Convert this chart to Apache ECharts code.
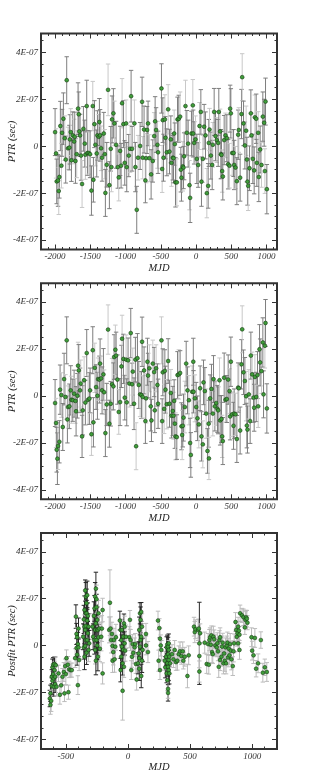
<!DOCTYPE html>
<html><head><meta charset="utf-8">
<script src="https://cdn.jsdelivr.net/npm/echarts@6/dist/echarts.min.js"></script>
<style>html,body{margin:0;padding:0;background:#fff}#c{width:316px;height:780px}</style>
</head><body><div id="c"></div>
<script>
// ---------- DATA (PTR values in units of 1E-07 s) ----------
const p1Mjd = [-2000,-1986,-1977,-1958,-1948,-1939,-1925,-1910,-1901,-1882,
 -1863,-1849,-1835,-1816,-1797,-1790,-1778,-1768,-1749,-1730,
 -1721,-1711,-1693,-1674,-1664,-1655,-1645,-1631,-1617,-1598,
 -1579,-1570,-1551,-1541,-1522,-1503,-1484,-1465,-1456,-1442,
 -1428,-1409,-1399,-1380,-1371,-1361,-1347,-1333,-1309,-1295,
 -1286,-1267,-1248,-1229,-1210,-1200,-1191,-1172,-1158,-1134,
 -1110,-1096,-1077,-1063,-1049,-1030,-1011,-992,-983,-954,
 -935,-921,-907,-874,-860,-841,-822,-793,-765,-756,
 -737,-718,-708,-694,-680,-661,-637,-613,-594,-580,
 -566,-547,-538,
 -490,-480,-471,-461,-442,-433,-414,-395,-376,-357,
 -348,-329,-319,-310,-300,-291,-272,-262,-244,-225,
 -215,-206,-187,-177,-168,-149,-130,-111,-92,-83,
 -64,-45,-40,-26,-7,12,31,50,69,78,
 97,116,135,154,173,182,192,211,230,239,
 258,277,296,315,324,343,353,362,372,381,
 400,419,438,457,476,485,495,514,533,542,
 561,580,599,608,627,646,656,675,694,712,
 722,731,741,760,779,788,807,826,836,855,
 864,883,892,911,930,949,968,978,987,1006];
const p1Ptr = [0.60,-0.31,-1.50,-1.46,-1.91,-1.31,0.86,-0.83,0.57,1.17,
 0.34,-0.57,2.81,-0.09,-0.06,0.29,0.60,-0.60,0.46,0.20,
 0.40,-0.63,-0.34,1.60,1.36,0.63,0.46,-0.40,-1.61,0.74,
 0.11,-0.36,1.71,-0.29,-0.29,-0.34,-1.89,1.71,-1.43,0.94,
 0.06,-0.31,0.46,0.40,1.03,0.46,-0.09,-0.49,0.54,-0.34,
 -1.99,-0.79,2.40,-1.66,-0.11,-0.89,1.14,1.40,0.97,0.06,
 -0.89,-1.33,-0.20,-0.83,1.83,0.94,-0.71,0.97,-0.89,-0.40,
 -0.11,2.13,-0.11,0.97,-0.89,-2.71,-0.49,0.01,1.89,-0.49,
 0.71,-1.46,-0.51,0.69,0.97,-0.51,-1.20,-0.63,0.43,1.06,
 0.69,0.06,-0.26,
 2.46,-0.97,1.11,-0.49,1.14,0.36,-0.26,1.57,-0.23,0.29,
 -0.71,-0.49,-0.51,0.54,0.09,-1.54,-1.54,1.14,1.17,1.26,
 -1.00,-1.34,-0.86,-0.91,-0.43,1.71,0.57,0.11,-1.66,-2.20,
 0.54,1.74,0.54,0.14,0.29,-0.54,-0.80,0.86,1.46,-1.51,
 -0.54,0.83,0.46,-2.00,-1.69,0.14,0.71,-0.40,-0.80,0.06,
 1.46,0.43,0.26,0.14,1.46,0.63,-0.34,-0.37,-1.06,-1.29,
 0.26,0.46,0.34,-0.77,-0.83,1.60,1.40,-0.29,-0.29,-0.80,
 -0.91,-1.49,0.49,0.69,-1.34,1.37,2.94,0.97,0.03,0.66,
 -0.57,-1.51,-1.69,-0.94,1.40,0.46,-0.54,-1.03,1.23,1.17,
 -0.71,0.57,-1.31,-0.14,-0.80,1.26,1.00,-1.06,1.90,-1.83];
// TOA uncertainties (same TOAs in the two upper panels)
const toaErr = [1.00,1.05,0.95,1.10,1.00,0.90,1.05,0.95,1.00,1.10,
 0.95,1.00,1.00,0.90,0.95,1.05,1.00,0.90,1.00,0.95,
 1.05,0.95,1.00,1.10,0.95,1.00,0.90,1.05,1.00,0.95,
 1.00,1.05,1.10,0.95,0.90,1.00,1.05,1.05,0.95,1.00,
 0.90,1.00,1.05,0.95,1.00,1.10,0.95,1.00,0.90,1.05,
 1.00,0.95,1.10,1.00,0.95,1.05,1.00,1.05,0.95,1.00,
 0.90,1.00,1.05,0.95,1.05,1.00,0.95,1.00,1.05,0.90,
 1.00,1.10,0.95,1.00,1.05,1.00,0.95,1.00,1.05,0.90,
 1.00,0.95,1.05,1.00,0.95,1.00,1.05,0.90,1.00,1.05,
 0.95,1.00,0.90,1.05,1.00,0.95,1.00,1.05,0.90,1.00,
 1.05,0.95,1.00,1.00,0.95,1.05,1.00,0.90,1.05,1.00,
 0.95,1.00,1.05,0.95,1.00,1.05,0.90,1.00,1.10,0.95,
 1.00,1.05,1.05,0.95,1.10,1.00,0.90,1.00,1.05,0.95,
 1.00,0.95,1.05,1.00,0.95,1.00,1.05,0.95,1.00,0.90,
 1.00,1.05,0.95,1.00,1.05,0.95,1.00,1.00,0.95,1.05,
 1.00,0.90,1.00,1.05,0.95,1.00,1.05,0.95,1.00,1.05,
 0.95,1.00,1.05,0.90,1.00,1.05,0.95,1.00,1.05,1.00,
 0.95,1.00,1.05,0.95,1.00,1.05,0.95,1.00,0.95,1.05,
 1.00,0.95,1.05,1.00,0.90,1.05,1.00,0.95,1.05,1.00,
 0.95,1.00,1.05];
const p2Mjd = [-2000,-1986,-1977,-1967,-1958,-1939,-1929,-1910,-1891,-1872,
 -1853,-1835,-1825,-1816,-1797,-1778,-1768,-1749,-1730,-1711,
 -1702,-1683,-1674,-1664,-1645,-1636,-1617,-1607,-1588,-1570,
 -1551,-1532,-1513,-1503,-1484,-1465,-1456,-1437,-1418,-1399,
 -1390,-1371,-1361,-1347,-1333,-1314,-1304,-1286,-1267,-1248,
 -1229,-1210,-1191,-1172,-1162,-1144,-1134,-1115,-1096,-1077,
 -1058,-1049,-1030,-1011,-992,-983,-964,-945,-926,-907,
 -897,-879,-860,-850,-831,-812,-793,-774,-765,-756,
 -737,-718,-708,-689,-680,-661,-642,-632,-613,-594,
 -585,-566,-547,-538,
 -490,-480,-471,-452,-442,-433,-414,-395,-376,-357,
 -348,-329,-319,-310,-300,-291,-272,-262,-244,-225,
 -206,-196,-187,-177,-158,-139,-120,-101,-83,-73,
 -54,-38,-35,-16,3,21,40,59,78,97,
 107,126,145,163,180,184,201,220,239,249,
 268,287,305,315,334,343,362,372,381,400,
 419,438,457,476,485,495,514,533,542,561,
 580,599,608,627,646,656,675,694,712,722,
 731,750,769,779,798,817,826,836,855,873,
 883,902,911,930,949,959,978,987,1006];
const p2Ptr = [-0.30,-1.15,-2.29,-2.67,-2.13,-1.95,0.27,0.04,-1.32,0.72,
 -0.04,2.37,-1.00,-0.47,-0.44,0.24,-0.16,-0.18,0.10,-0.21,
 -0.65,0.01,1.29,1.09,0.24,0.53,-1.72,-0.61,0.67,-0.28,
 1.83,-0.16,-0.11,0.24,-1.63,1.95,-1.12,1.20,0.38,0.01,
 0.72,0.70,1.38,0.75,0.24,0.92,0.16,-1.58,-0.36,2.83,
 -1.18,-0.33,0.50,0.41,1.66,1.97,1.72,0.70,-0.68,-0.26,
 1.26,2.44,1.58,-0.07,1.55,-0.27,1.52,0.53,2.68,0.50,
 1.04,-0.33,1.55,-2.14,1.61,0.47,0.07,0.04,2.31,-0.04,
 1.09,-1.07,-0.10,1.46,0.87,1.18,-0.44,-1.04,1.38,1.02,
 -0.61,1.18,0.47,-0.33,
 2.37,-1.07,1.01,-0.55,1.07,0.27,-0.35,1.49,-0.33,0.13,
 -0.84,-0.64,-0.84,-0.21,-1.18,-1.72,-1.75,0.89,0.92,0.98,
 -1.29,-1.66,-1.27,-0.92,-0.47,1.38,0.24,-0.18,-2.00,-2.51,
 0.18,1.46,0.18,-0.10,-0.47,-0.95,-1.21,0.33,-1.72,-2.06,
 0.58,0.21,-0.75,-2.34,-1.18,-2.66,-0.10,0.30,-0.75,0.72,
 -0.44,-0.30,-0.55,-0.61,0.67,-1.04,-0.98,-1.72,-1.92,0.78,
 -0.16,-0.13,0.70,0.21,-0.87,1.46,-0.78,-1.27,-0.75,-0.78,
 -1.83,0.36,0.33,-1.47,1.35,2.84,1.01,0.64,-0.01,-1.26,
 -1.43,0.07,-1.07,1.72,0.92,-0.07,-0.50,0.81,-0.04,0.89,
 -0.44,1.99,1.43,1.06,2.28,0.07,2.14,3.11,-0.53];
const p3Mjd = [-629,-624,-624,-618,-613,-613,-608,-608,-602,-602,-597,-597,-591,-591,-586,-586,-581,-575,
 -559,-548,-538,-527,-516,-511,-505,-500,-495,-484,-479,-473,-462,-452,
 -425,-419,-414,-414,-409,-409,-403,-403,-398,-398,-393,
 -360,-355,-355,-350,-350,-350,-344,-344,-344,-339,-339,-339,-339,-333,-333,-333,-328,-328,-328,-323,-323,-317,-317,-312,
 -285,-280,-274,-269,-269,-264,-264,-264,-258,-258,-258,-253,-253,-253,-247,-247,-247,-242,-242,-237,-237,-231,-226,-215,-210,-204,-204,
 -151,-145,-140,-135,-129,-124,-124,-118,-113,-108,-102,-97,
 -65,-59,-59,-54,-54,-49,-49,-43,-43,-38,-38,-32,-32,-27,-27,-22,-16,
 11,16,21,27,32,38,43,54,59,64,
 70,81,86,91,91,91,97,97,102,102,107,107,107,113,113,118,
 145,145,161,
 242,247,253,258,258,264,269,
 296,301,307,312,312,317,317,317,323,323,323,323,323,328,328,328,328,333,333,339,
 355,366,376,387,398,409,419,430,441,446,457,479,489,
 532,538,543,565,570,575,575,575,581,
 618,634,645,651,656,661,667,672,677,683,688,694,704,715,720,726,731,737,742,742,
 753,758,763,769,774,780,785,790,796,801,806,812,817,823,828,833,844,850,855,
 866,871,876,882,887,887,893,898,898,903,919,930,941,946,952,957,962,
 995,1000,1011,1022,1032,1048,1070,1086,1102,1118];
const p3Ptr = [-2.25,-2.52,-2.03,-2.35,-1.72,-1.32,-0.92,-1.49,-0.81,-1.21,-1.75,-1.39,-1.04,-0.78,-1.32,-1.64,-0.83,-1.75,
 -1.18,-2.09,-1.69,-1.32,-1.12,-2.03,-0.87,-1.21,-0.53,-0.81,-1.98,-1.01,-1.04,-1.04,
 -0.53,1.24,0.50,-0.10,-0.38,0.36,0.07,-1.68,0.73,-0.07,-0.61,
 0.38,1.12,-0.07,1.52,-0.47,0.81,2.35,0.67,-0.01,2.09,0.84,0.24,1.38,1.81,1.38,-0.30,1.07,0.24,2.15,1.27,0.53,0.81,-0.18,0.10,
 0.81,0.38,1.27,1.59,0.24,2.09,0.67,-0.18,2.43,0.95,-0.64,1.64,0.24,1.98,1.10,0.01,0.67,0.67,-0.47,1.38,0.36,0.73,-0.13,0.38,0.73,1.52,-1.18,
 0.67,1.83,0.73,0.24,0.50,-0.01,-0.64,-0.27,0.24,-0.58,-0.04,0.36,
 1.07,0.67,-1.04,0.24,-0.47,0.67,-0.04,-1.92,-0.75,0.38,-0.18,-0.90,0.95,0.81,0.10,-0.21,0.38,
 0.36,1.10,0.24,-1.04,-0.47,0.07,-0.30,-0.07,0.07,-0.78,
 -1.44,-0.75,-0.33,0.67,-0.98,-0.53,1.38,-0.04,1.10,0.24,1.44,0.38,-1.29,-0.64,0.81,-0.18,
 0.50,0.01,-0.27,
 1.07,-0.64,0.75,0.30,-1.04,0.01,-0.18,
 -0.64,-0.92,-0.47,-0.07,-1.18,0.05,-0.75,-1.47,-0.04,-0.36,-0.90,-2.01,-1.84,0.10,-0.61,-1.04,-0.18,-1.18,-0.47,-0.75,
 -0.36,-0.58,-0.18,-0.70,-0.64,-0.36,-0.24,-0.44,-0.24,-0.64,-0.47,-1.29,-0.41,
 0.81,0.58,0.70,0.67,0.73,0.10,-0.44,-1.10,0.53,
 0.13,-0.78,0.07,-0.81,0.24,0.36,0.04,0.44,-0.27,-0.36,0.38,0.27,0.01,-0.07,0.10,-0.24,-0.90,0.24,-0.61,0.36,
 -0.47,-0.04,0.13,-0.75,-0.33,-0.64,-0.07,-0.75,0.01,0.13,-0.50,-0.13,-0.41,0.07,-0.21,-0.58,-0.87,-0.24,0.10,
 1.01,0.67,0.38,0.53,0.81,0.10,0.64,0.47,-0.18,1.38,1.29,1.21,0.78,1.10,1.21,1.15,0.98,
 0.36,-0.21,-0.41,0.33,-0.98,-0.75,0.24,-1.15,-0.92,-1.12];
const p3Err = [0.35,0.40,0.35,0.45,0.35,0.30,0.35,0.40,0.30,0.35,0.40,0.35,0.35,0.30,0.40,0.35,0.35,0.40,
 0.35,0.40,0.35,0.35,0.40,0.35,0.30,0.45,0.35,0.35,0.30,0.35,0.30,0.30,
 0.40,0.50,0.45,0.40,0.45,0.40,0.50,0.40,0.45,0.40,0.45,
 0.55,0.60,0.50,0.60,0.55,0.50,0.45,0.55,0.50,0.60,0.55,0.50,0.55,0.60,0.55,0.50,0.55,0.50,0.60,0.55,0.50,0.55,0.50,0.55,
 0.55,0.55,0.60,0.55,0.60,0.60,0.55,0.60,0.70,0.55,0.60,0.55,0.55,0.60,0.55,0.60,0.55,0.55,0.60,0.55,0.55,0.50,0.55,0.60,0.55,0.50,0.45,
 0.55,1.40,0.50,0.55,0.50,0.55,0.50,0.55,0.50,0.55,0.50,0.55,
 0.40,0.45,0.50,0.45,0.50,0.45,0.50,1.25,0.50,0.45,0.50,0.45,0.40,0.45,0.50,0.45,0.50,
 0.45,0.40,0.45,0.40,0.45,0.40,0.45,0.40,0.45,0.40,
 0.45,0.45,0.50,0.55,0.50,0.50,0.45,0.50,0.55,0.50,0.40,0.55,0.50,0.50,0.55,0.50,
 0.45,0.40,0.45,
 0.40,0.45,0.40,0.45,0.40,0.45,0.40,
 0.40,0.45,0.40,0.45,0.40,0.40,0.40,0.45,0.40,0.45,0.40,0.35,0.40,0.40,0.40,0.45,0.40,0.45,0.40,0.45,
 0.40,0.35,0.40,0.35,0.40,0.35,0.40,0.35,0.40,0.35,0.40,0.50,0.40,
 0.40,0.45,0.40,0.45,0.40,1.75,0.50,0.45,0.40,
 0.45,0.40,0.45,0.40,0.45,0.40,0.45,0.40,0.45,0.40,0.45,0.40,0.45,0.40,0.45,0.40,0.45,0.40,0.45,0.40,
 0.40,0.45,0.40,0.45,0.40,0.45,0.40,0.45,0.40,0.45,0.40,0.45,0.40,0.45,0.40,0.45,0.40,0.45,0.40,
 0.40,0.35,0.40,0.35,0.40,0.35,0.40,0.35,0.40,0.35,0.30,0.35,0.30,0.35,0.30,0.35,0.30,
 0.40,0.40,0.35,0.40,0.35,0.40,0.35,0.40,0.35,0.40];
// backend flag for postfit TOAs: 1 = dark error bars, 0 = light
const p3Backend = [1,0,1,0,1,1,1,0,1,0,1,1,0,1,0,1,0,0,
 0,0,0,0,0,0,0,0,0,0,0,0,0,0,
 0,1,1,1,1,0,1,0,1,1,0,
 1,1,1,1,1,0,1,1,0,1,1,1,0,1,1,1,1,0,1,1,1,1,0,1,
 0,1,1,1,1,1,1,0,1,1,1,1,1,0,1,1,0,1,1,0,1,0,0,0,0,0,0,
 0,0,0,0,0,0,0,0,0,0,0,0,
 1,1,1,1,1,0,1,0,1,1,1,0,1,0,1,0,0,
 0,0,0,0,0,0,0,0,0,0,
 0,1,1,1,1,0,1,1,1,0,1,1,1,1,0,1,
 0,0,0,
 0,0,0,0,0,0,0,
 0,1,1,1,1,1,1,0,1,1,1,1,0,1,1,1,0,1,1,0,
 0,0,0,0,0,0,0,0,0,0,0,0,0,
 0,0,0,0,0,1,0,0,0,
 0,0,0,0,0,0,0,0,0,0,0,0,0,0,0,0,0,0,0,0,
 0,0,0,0,0,0,0,0,0,0,0,0,0,0,0,0,0,0,0,
 0,0,0,0,0,0,0,0,0,0,0,0,0,0,0,0,0,
 0,0,0,0,0,0,0,0,0,0];

const yTickValues = [-4, -2, 0, 2, 4];
const yTickLabels = ['-4E-07', '-2E-07', '0', '2E-07', '4E-07'];
const xTicksTop = [-2000, -1500, -1000, -500, 0, 500, 1000];
const xTicksBottom = [-500, 0, 500, 1000];
const yTitles = ['PTR (sec)', 'PTR (sec)', 'Postfit PTR (sec)'];
const xTitle = 'MJD';

// ---------- CHART ----------
const FONT = 'Liberation Serif';
const INK = '#333';
function range(a, b, s) { const r = []; for (let v = a; v <= b + 1e-9; v += s) r.push(Math.round(v * 100) / 100); return r; }
const yMinor = range(-4, 4.5, 0.5);
const panels = [
  { top: 33.5, xmin: -2200, xmax: 1150, xMajor: xTicksTop, xMinor: range(-2200, 1100, 100) },
  { top: 283.3, xmin: -2200, xmax: 1150, xMajor: xTicksTop, xMinor: range(-2200, 1100, 100) },
  { top: 533, xmin: -700, xmax: 1200, xMajor: xTicksBottom, xMinor: range(-700, 1200, 100) }
];
const labelStyle = { fontFamily: FONT, fontStyle: 'italic', fontSize: 9, color: INK };
const nameStyle = { fontFamily: FONT, fontStyle: 'italic', fontSize: 10.5, color: '#222' };
const tickLine = { color: INK, width: 1 };
const noLine = { show: false, onZero: false };
const grids = [], xAxes = [], yAxes = [];
panels.forEach((p, gi) => {
  grids.push({ left: 41, top: p.top, width: 236, height: 216, show: true, borderColor: INK, borderWidth: 2,
    backgroundColor: 'transparent', containLabel: false, outerBoundsMode: 'none' });
  const baseX = { gridIndex: gi, type: 'value', min: p.xmin, max: p.xmax, axisLine: noLine, splitLine: { show: false } };
  xAxes.push(Object.assign({}, baseX, { position: 'bottom',
    axisTick: { show: true, inside: true, length: 5, customValues: p.xMajor, lineStyle: tickLine },
    axisLabel: { show: true, customValues: p.xMajor, margin: 3, formatter: v => String(v), ...labelStyle },
    name: xTitle, nameLocation: 'middle', nameGap: 13, nameMoveOverlap: false, nameTextStyle: nameStyle }));
  xAxes.push(Object.assign({}, baseX, { position: 'bottom',
    axisTick: { show: true, inside: true, length: 2.5, customValues: p.xMinor, lineStyle: tickLine }, axisLabel: { show: false } }));
  xAxes.push(Object.assign({}, baseX, { position: 'top',
    axisTick: { show: true, inside: true, length: 5, customValues: p.xMajor, lineStyle: tickLine }, axisLabel: { show: false } }));
  xAxes.push(Object.assign({}, baseX, { position: 'top',
    axisTick: { show: true, inside: true, length: 2.5, customValues: p.xMinor, lineStyle: tickLine }, axisLabel: { show: false } }));
  const baseY = { gridIndex: gi, type: 'value', min: -4.4, max: 4.8, axisLine: noLine, splitLine: { show: false } };
  yAxes.push(Object.assign({}, baseY, { position: 'left',
    axisTick: { show: true, inside: true, length: 5, customValues: yTickValues, lineStyle: tickLine },
    axisLabel: { show: true, customValues: yTickValues, margin: 3, ...labelStyle,
      formatter: v => { const i = yTickValues.findIndex(t => Math.abs(t - v) < 1e-6); return i >= 0 ? yTickLabels[i] : ''; } },
    name: yTitles[gi], nameLocation: 'middle', nameGap: 23, nameMoveOverlap: false, nameTextStyle: nameStyle }));
  yAxes.push(Object.assign({}, baseY, { position: 'left',
    axisTick: { show: true, inside: true, length: 2.5, customValues: yMinor, lineStyle: tickLine }, axisLabel: { show: false } }));
  yAxes.push(Object.assign({}, baseY, { position: 'right',
    axisTick: { show: true, inside: true, length: 5, customValues: yTickValues, lineStyle: tickLine }, axisLabel: { show: false } }));
  yAxes.push(Object.assign({}, baseY, { position: 'right',
    axisTick: { show: true, inside: true, length: 2.5, customValues: yMinor, lineStyle: tickLine }, axisLabel: { show: false } }));
});

function errorBars(gi, mjd, ptr, err, colorOf) {
  const n = Math.min(mjd.length, ptr.length, err.length);
  const data = [];
  for (let k = 0; k < n; k++) data.push([mjd[k], ptr[k] - err[k], ptr[k] + err[k], k]);
  return {
    type: 'custom', xAxisIndex: gi * 4, yAxisIndex: gi * 4, z: 2, silent: true, clip: true,
    encode: { x: 0, y: [1, 2] }, data,
    renderItem: (params, api) => {
      const x = api.value(0);
      const a = api.coord([x, api.value(1)]), b = api.coord([x, api.value(2)]);
      const c = colorOf(api.value(3));
      const w = 2.2, st = { stroke: c, lineWidth: 1 };
      return { type: 'group', children: [
        { type: 'line', shape: { x1: a[0], y1: a[1], x2: b[0], y2: b[1] }, style: st },
        { type: 'line', shape: { x1: a[0] - w, y1: a[1], x2: a[0] + w, y2: a[1] }, style: st },
        { type: 'line', shape: { x1: b[0] - w, y1: b[1], x2: b[0] + w, y2: b[1] }, style: st }
      ] };
    }
  };
}
function points(gi, mjd, ptr) {
  const n = Math.min(mjd.length, ptr.length);
  const data = [];
  for (let k = 0; k < n; k++) data.push([mjd[k], ptr[k]]);
  return { type: 'scatter', xAxisIndex: gi * 4, yAxisIndex: gi * 4, z: 5, data, symbol: 'circle', symbolSize: 3.8,
    itemStyle: { color: '#3f9d3a', borderColor: '#173d14', borderWidth: 0.6, opacity: 1 } };
}
const greyOf = k => (k % 3 === 1 ? '#c8c8c8' : '#7e7e7e');
const p3ColorOf = k => (p3Backend[k] ? '#262626' : '#bcbcbc');
const series = [
  errorBars(0, p1Mjd, p1Ptr, toaErr, greyOf), points(0, p1Mjd, p1Ptr),
  errorBars(1, p2Mjd, p2Ptr, toaErr, greyOf), points(1, p2Mjd, p2Ptr),
  errorBars(2, p3Mjd, p3Ptr, p3Err, p3ColorOf), points(2, p3Mjd, p3Ptr)
];
const chart = echarts.init(document.getElementById('c'), null, { renderer: 'canvas' });
chart.setOption({ animation: false, backgroundColor: '#fff', grid: grids, xAxis: xAxes, yAxis: yAxes, series });
</script></body></html>
